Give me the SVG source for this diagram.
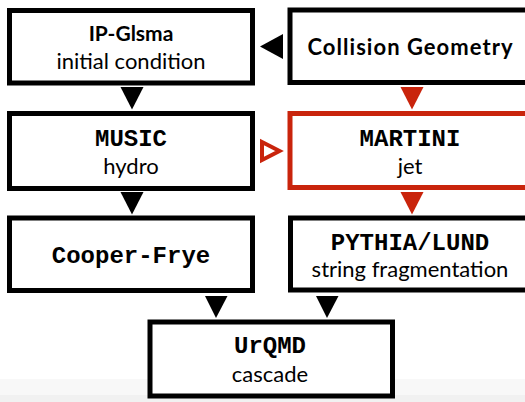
<svg xmlns="http://www.w3.org/2000/svg" width="525" height="402" viewBox="0 0 525 402">
<style>
.box{fill:#ffffff;stroke:#000000;stroke-width:5}
.red{stroke:#c9240c}
.h{font-family:Lato,"Open Sans","DejaVu Sans",sans-serif;font-size:22px;fill:#000;text-anchor:middle}
.hb{font-weight:bold}
.m{font-family:"Liberation Mono","Courier New",monospace;font-weight:bold;font-size:24px;fill:#000;text-anchor:middle}
.ah{fill:#000}
.ahr{fill:#c9240c}
</style>
<rect x="0" y="0" width="525" height="402" fill="#ffffff"/>
<rect x="0" y="379" width="525" height="23" fill="#f8f8f8"/>
<rect x="0" y="395" width="525" height="7" fill="#f1f1f1"/>
<g id="connectors">
<polygon class="ah" points="260,46.5 283,34 283,59"/>
<polygon class="ah" points="120.5,87 143.5,87 132,109.5"/>
<polygon class="ahr" points="400.5,87 423.5,87 412,109.5"/>
<polygon points="262,142 262,160 279.5,151" fill="#ffffff" stroke="#c9240c" stroke-width="4"/>
<polygon class="ah" points="120.5,192 143.5,192 132,214.5"/>
<polygon class="ahr" points="400.5,192 423.5,192 412,214.5"/>
<polygon class="ah" points="205,296 227.5,296 216,318"/>
<polygon class="ah" points="316,296 338.5,296 327,318"/>
</g>
<g id="ipglasma">
<rect class="box" x="9.5" y="10.5" width="243" height="72.5"/>
<text class="h hb" x="131" y="41" style="font-size:21px">IP-Glsma</text>
<text class="h" x="131" y="69">initial condition</text>
</g>
<g id="collision">
<rect class="box" x="290" y="10" width="243" height="72.5"/>
<text class="h hb" x="410" y="55" textLength="205" lengthAdjust="spacing">Collision Geometry</text>
</g>
<g id="music">
<rect class="box" x="9.5" y="113.5" width="243" height="75"/>
<text class="m" x="131" y="146">MUSIC</text>
<text class="h" x="131" y="174">hydro</text>
</g>
<g id="martini">
<rect class="box red" x="290" y="113.5" width="243" height="74"/>
<text class="m" x="410" y="146">MARTINI</text>
<text class="h" x="410" y="174">jet</text>
</g>
<g id="cooperfrye">
<rect class="box" x="9.5" y="218" width="243" height="72.5"/>
<text class="m" x="131" y="263">Cooper-Frye</text>
</g>
<g id="pythia">
<rect class="box" x="290.5" y="218" width="243" height="72"/>
<text class="m" x="410" y="250">PYTHIA/LUND</text>
<text class="h" x="410" y="277">string fragmentation</text>
</g>
<g id="urqmd">
<rect class="box" x="150" y="322" width="242.5" height="74"/>
<text class="m" x="270" y="353">UrQMD</text>
<text class="h" x="270" y="382">cascade</text>
</g>
</svg>
